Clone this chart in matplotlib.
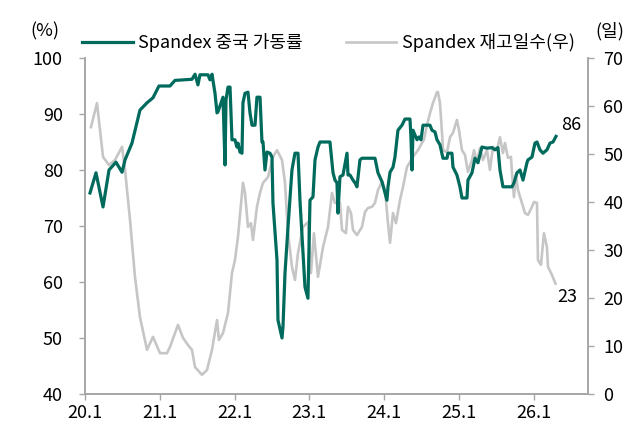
#! /usr/bin/env python
import matplotlib
matplotlib.use("Agg")
import matplotlib.pyplot as plt

plt.rcParams['font.family'] = ['Noto Sans CJK KR', 'DejaVu Sans']

# Spandex 중국 가동률 (%), x in decimal years
util_x = [2020.067, 2020.147, 2020.241, 2020.321, 2020.414, 2020.495, 2020.535, 2020.628,
          2020.735, 2020.829, 2020.909, 2020.989, 2021.136, 2021.203, 2021.430, 2021.471,
          2021.510, 2021.537, 2021.644, 2021.671, 2021.698, 2021.738, 2021.765, 2021.778,
          2021.832, 2021.845, 2021.872, 2021.885, 2021.912, 2021.939, 2021.965, 2022.005,
          2022.032, 2022.045, 2022.072, 2022.099, 2022.112, 2022.139, 2022.179, 2022.206,
          2022.233, 2022.273, 2022.299, 2022.340, 2022.366, 2022.380, 2022.406, 2022.433,
          2022.473, 2022.500, 2022.513, 2022.567, 2022.580, 2022.634, 2022.647, 2022.674,
          2022.714, 2022.767, 2022.807, 2022.848, 2022.874, 2022.914, 2022.941, 2022.981,
          2023.008, 2023.048, 2023.075, 2023.115, 2023.142, 2023.275, 2023.316, 2023.342,
          2023.369, 2023.382, 2023.409, 2023.449, 2023.503, 2023.516, 2023.543, 2023.583,
          2023.610, 2023.636, 2023.676, 2023.703, 2023.877, 2023.917, 2023.971, 2024.011,
          2024.037, 2024.051, 2024.078, 2024.118, 2024.144, 2024.184, 2024.238, 2024.278,
          2024.345, 2024.358, 2024.372, 2024.385, 2024.439, 2024.465, 2024.492, 2024.519,
          2024.612, 2024.639, 2024.679, 2024.706, 2024.746, 2024.786, 2024.840, 2024.853,
          2024.906, 2024.920, 2024.973, 2025.013, 2025.040, 2025.107, 2025.120, 2025.174,
          2025.214, 2025.254, 2025.307, 2025.374, 2025.441, 2025.481, 2025.521, 2025.548,
          2025.588, 2025.709, 2025.735, 2025.775, 2025.816, 2025.856, 2025.909, 2025.922,
          2025.976, 2026.016, 2026.043, 2026.083, 2026.123, 2026.176, 2026.217, 2026.257,
          2026.297]
util = [75.9, 79.5, 73.4, 80.0, 81.4, 79.6, 81.8, 84.8,
        90.7, 92.0, 92.9, 95.0, 95.0, 96.0, 96.2, 97.1,
        95.2, 97.0, 97.0, 96.1, 97.1, 93.7, 90.2, 90.4,
        92.5, 93.0, 80.9, 92.5, 94.8, 94.8, 85.4, 85.4,
        84.1, 84.8, 83.2, 83.0, 92.0, 93.7, 93.9, 90.2,
        88.0, 88.0, 93.0, 93.0, 85.0, 85.0, 80.0, 83.2,
        83.0, 82.3, 74.1, 63.9, 53.2, 50.0, 52.0, 61.6,
        69.8, 80.0, 83.0, 83.0, 74.6, 65.2, 59.1, 57.1,
        74.6, 75.2, 81.8, 84.1, 85.0, 85.0, 79.5, 78.2,
        77.7, 72.3, 78.8, 79.1, 83.0, 79.1, 79.1, 78.2,
        77.7, 77.0, 81.8, 82.1, 82.1, 79.5, 77.9, 75.9,
        74.6, 77.0, 79.6, 80.5, 82.3, 87.1, 88.0, 89.1,
        89.1, 85.9, 80.0, 87.1, 85.4, 85.9, 85.4, 88.0,
        88.0, 87.1, 86.8, 85.4, 84.5, 82.1, 82.1, 83.0,
        83.0, 80.5, 79.1, 77.0, 75.0, 75.0, 78.2, 79.5,
        82.1, 81.3, 84.1, 83.9, 84.0, 83.6, 84.0, 80.0,
        77.0, 77.0, 77.7, 79.5, 80.0, 78.2, 81.3, 81.8,
        82.3, 84.8, 85.0, 83.6, 83.0, 83.6, 84.8, 85.0,
        86.0]

# Spandex 재고일수 (일), right axis
inv_x = [2020.080, 2020.160, 2020.241, 2020.321, 2020.401, 2020.495, 2020.535, 2020.602,
         2020.668, 2020.735, 2020.829, 2020.909, 2021.003, 2021.096, 2021.136, 2021.243,
         2021.310, 2021.377, 2021.430, 2021.471, 2021.564, 2021.631, 2021.698, 2021.765,
         2021.791, 2021.845, 2021.912, 2021.965, 2022.005, 2022.045, 2022.112, 2022.139,
         2022.179, 2022.219, 2022.246, 2022.299, 2022.340, 2022.380, 2022.447, 2022.513,
         2022.567, 2022.634, 2022.674, 2022.714, 2022.767, 2022.807, 2022.848, 2022.914,
         2022.981, 2023.021, 2023.061, 2023.115, 2023.182, 2023.249, 2023.302, 2023.342,
         2023.409, 2023.436, 2023.489, 2023.516, 2023.556, 2023.583, 2023.636, 2023.703,
         2023.743, 2023.783, 2023.837, 2023.877, 2023.917, 2023.971, 2024.011, 2024.051,
         2024.078, 2024.118, 2024.158, 2024.211, 2024.251, 2024.305, 2024.345, 2024.385,
         2024.452, 2024.505, 2024.532, 2024.572, 2024.612, 2024.652, 2024.706, 2024.719,
         2024.746, 2024.773, 2024.786, 2024.840, 2024.880, 2024.920, 2024.973, 2025.000,
         2025.040, 2025.080, 2025.120, 2025.174, 2025.201, 2025.241, 2025.281, 2025.321,
         2025.374, 2025.414, 2025.455, 2025.508, 2025.548, 2025.588, 2025.615, 2025.655,
         2025.695, 2025.709, 2025.735, 2025.762, 2025.789, 2025.842, 2025.882, 2025.922,
         2025.976, 2026.003, 2026.043, 2026.056, 2026.096, 2026.136, 2026.176, 2026.190,
         2026.243, 2026.290]
inv = [55.6, 60.6, 49.4, 47.7, 48.75, 51.5, 46.7, 36.25,
       24.4, 16.0, 9.2, 11.9, 8.5, 8.5, 9.8, 14.4,
       11.7, 10.2, 9.2, 5.6, 4.0, 5.0, 9.2, 15.4,
       11.25, 12.7, 16.9, 25.2, 27.9, 32.7, 44.0, 41.9,
       34.8, 35.6, 32.1, 39.0, 41.9, 44.0, 45.2, 49.4,
       50.8, 48.75, 44.0, 33.5, 26.5, 23.75, 29.4, 34.8,
       35.8, 25.2, 33.5, 24.4, 30.6, 34.8, 41.9, 39.8,
       39.8, 34.2, 33.5, 39.0, 37.7, 34.2, 33.1, 34.8,
       37.9, 38.75, 39.0, 39.8, 42.5, 44.2, 42.5, 35.6,
       31.5, 37.7, 35.6, 40.4, 43.1, 47.3, 48.3, 49.4,
       50.8, 52.3, 53.0, 56.0, 58.5, 60.6, 62.9, 62.9,
       60.6, 54.4, 50.8, 50.4, 53.5, 54.4, 57.1, 55.0,
       50.8, 49.8, 46.25, 48.75, 50.8, 48.3, 51.25, 48.75,
       50.8, 46.7, 51.5, 50.8, 53.5, 50.2, 52.3, 49.2,
       49.4, 46.0, 41.0, 45.6, 42.5, 39.8, 37.7, 37.3,
       39.0, 40.0, 39.8, 27.9, 26.9, 33.5, 30.6, 26.5,
       24.8, 23.0]

xticks = [2020, 2021, 2022, 2023, 2024, 2025, 2026]
xtick_labels = ['20.1', '21.1', '22.1', '23.1', '24.1', '25.1', '26.1']

green = '#006B5D'
grey = '#C6C6C6'
axis_c = '#A6A6A6'
fs = 13

fig = plt.figure(figsize=(6.39, 4.26), dpi=100)
ax = fig.add_axes([85 / 639, 32 / 426, 503 / 639, 336 / 426])
ax2 = ax.twinx()
ax.set_zorder(ax2.get_zorder() + 1)
ax.patch.set_visible(False)

l2, = ax2.plot(inv_x, inv, color=grey, lw=1.9, label='Spandex 재고일수(우)')
l1, = ax.plot(util_x, util, color=green, lw=2.3, label='Spandex 중국 가동률')

ax.set_xlim(2020, 2026.725)
ax.set_ylim(40, 100)
ax2.set_ylim(0, 70)
ax.set_yticks(range(40, 101, 10))
ax2.set_yticks(range(0, 71, 10))
ax.set_xticks(xticks)
ax.set_xticklabels(xtick_labels)

for a in (ax, ax2):
    a.spines['top'].set_visible(False)
    for s in ('left', 'right', 'bottom'):
        a.spines[s].set_color(axis_c)
        a.spines[s].set_linewidth(1.2)
ax.tick_params(axis='y', length=4, width=1, color=axis_c, labelsize=fs, pad=12)
ax.tick_params(axis='x', length=4, width=1, color=axis_c, labelsize=fs, pad=3)
ax2.tick_params(axis='y', length=4, width=1, color=axis_c, labelsize=fs, pad=7)

ax.annotate(f'{util[-1]:.0f}', (util_x[-1], util[-1]), xytext=(4, 8),
            textcoords='offset points', fontsize=fs, ha='left', va='center')
ax2.annotate(f'{inv[-1]:.0f}', (inv_x[-1], inv[-1]), xytext=(1, -10),
             textcoords='offset points', fontsize=fs, ha='left', va='center')

fig.text(45 / 639, 1 - 31 / 426, '(%)', fontsize=fs, ha='center', va='center')
fig.text(610 / 639, 1 - 31 / 426, '(일)', fontsize=fs, ha='center', va='center')

fig.legend(handles=[l1, l2], loc='center left', bbox_to_anchor=(82 / 639, 1 - 43 / 426),
           ncol=2, frameon=False, fontsize=fs, handlelength=2.8, handletextpad=0.3,
           columnspacing=2.4, borderpad=0, borderaxespad=0)

fig.savefig('out.png', dpi=100)
